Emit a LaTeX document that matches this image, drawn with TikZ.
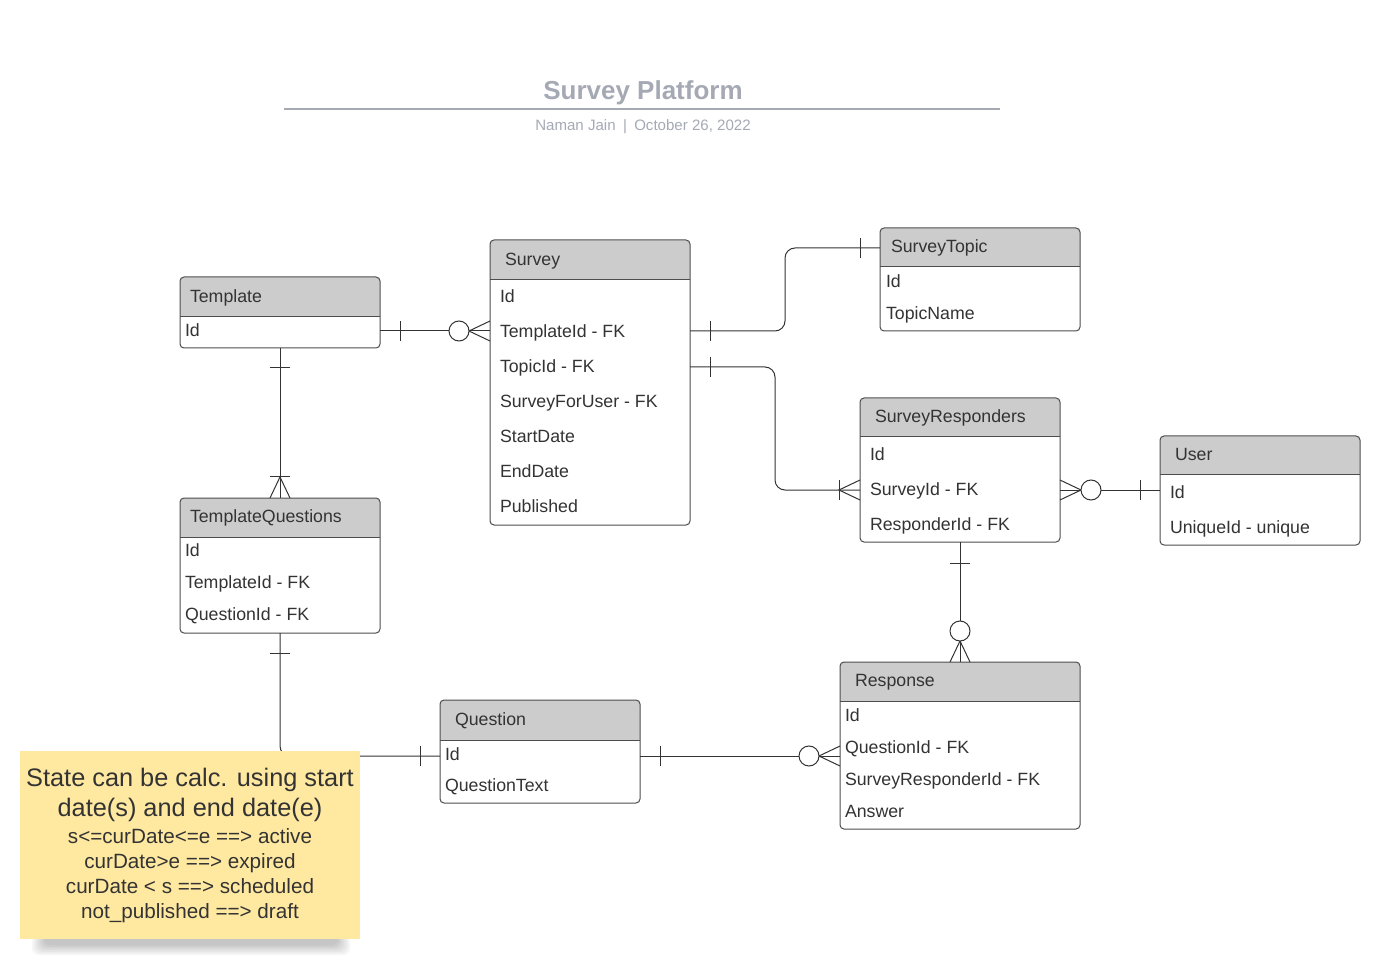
\documentclass[tikz,border=0pt]{standalone}
\usepackage{fontspec}
\setmainfont{Liberation Sans}
\usetikzlibrary{calc}
\definecolor{hdrgray}{HTML}{CCCCCC}
\definecolor{boxline}{HTML}{4D4D4D}
\definecolor{connline}{HTML}{333333}
\definecolor{txt}{HTML}{333333}
\definecolor{titlegray}{HTML}{A4A9B4}
\definecolor{notefill}{HTML}{FFE9A1}
\tikzset{
  ebox/.style={fill=white, draw=none, inner sep=0pt, outer sep=0pt},
  eborder/.style={draw=boxline, line width=0.75pt},
  htext/.style={anchor=west, inner sep=0pt, outer sep=0pt, text height=9.5pt, text depth=0pt,
    font=\fontsize{13.3}{16}\selectfont, text=txt},
  rtext/.style={htext},
  conn/.style={draw=connline, line width=0.75pt},
  notebox/.style={fill=notefill, draw=none, inner sep=0pt, align=center, text=txt,
    minimum width=255pt, minimum height=141pt, font=\fontsize{15.5}{18.75}\selectfont},
}
% entity: name, x, y, w, h, header h, title indent, title
\newcommand\erent[8]{%
  \node[ebox, minimum width=#4*0.75pt, minimum height=#5*0.75pt, anchor=north west] (#1) at (#2,#3) {};
  \begin{scope}
    \clip[rounded corners=3pt] (#2,#3) rectangle ++(#4,#5);
    \fill[hdrgray] (#2,#3) rectangle ++(#4,#6);
  \end{scope}
  \draw[eborder, rounded corners=3pt] (#2,#3) rectangle ++(#4,#5);
  \draw[eborder] (#2,#3+#6) -- ++(#4,0);
  \node[htext] (#1-title) at (#2+#7,#3+#6/2-1) {#8};
}
% markers: point, dx, dy (direction away from entity), distance
\newcommand\mkbar[4]{\draw[conn] ($(#1)+(#4*#2-10*#3, #4*#3+10*#2)$) -- ($(#1)+(#4*#2+10*#3, #4*#3-10*#2)$);}
\newcommand\mkcrow[3]{\draw[conn] ($(#1)+(-10*#3,10*#2)$) -- ($(#1)+(21*#2,21*#3)$) -- ($(#1)+(10*#3,-10*#2)$);}
\newcommand\mkcirc[3]{\draw[conn,fill=white] ($(#1)+(31*#2,31*#3)$) circle[radius=7.5pt];}

\begin{document}
\begin{tikzpicture}[x=0.75pt, y=-0.75pt]
\useasboundingbox (0,0) rectangle (1389,973);

% title
\node[anchor=base, inner sep=0pt, font=\bfseries\fontsize{19.5}{23}\selectfont, text=titlegray] (title) at (643,100) {Survey Platform};
\coordinate (tl) at (284,109);
\coordinate (tr) at (1000,109);
\draw[titlegray, line width=1.5pt] (tl) -- (tr);
\node[anchor=base, inner sep=0pt, font=\fontsize{11.3}{13.5}\selectfont, text=titlegray] (subtitle) at (643,130.5) {Naman Jain\hspace{5.5pt}|\hspace{5.5pt}October 26, 2022};

% entities
\erent{template}{180}{277}{200}{71}{40}{10}{Template}
\node[rtext] (template-id) at (185,330) {Id};

\erent{survey}{490}{240}{200}{285}{40}{15}{Survey}
\node[rtext] (survey-id) at (500,296) {Id};
\node[rtext] (survey-tid) at (500,331) {TemplateId - FK};
\node[rtext] (survey-topid) at (500,366) {TopicId - FK};
\node[rtext] (survey-sfu) at (500,401) {SurveyForUser - FK};
\node[rtext] (survey-start) at (500,436) {StartDate};
\node[rtext] (survey-end) at (500,471) {EndDate};
\node[rtext] (survey-pub) at (500,506) {Published};

\erent{topic}{880}{228}{200}{103}{39}{11}{SurveyTopic}
\node[rtext] (topic-id) at (886,281) {Id};
\node[rtext] (topic-name) at (886,313) {TopicName};

\erent{sr}{860}{398}{200}{144}{39}{15}{SurveyResponders}
\node[rtext] (sr-id) at (870,454) {Id};
\node[rtext] (sr-sid) at (870,489) {SurveyId - FK};
\node[rtext] (sr-rid) at (870,524) {ResponderId - FK};

\erent{user}{1160}{436}{200}{109}{39}{15}{User}
\node[rtext] (user-id) at (1170,492) {Id};
\node[rtext] (user-uid) at (1170,527) {UniqueId - unique};

\erent{tq}{180}{498}{200}{135}{39}{10}{TemplateQuestions}
\node[rtext] (tq-id) at (185,550) {Id};
\node[rtext] (tq-tid) at (185,582) {TemplateId - FK};
\node[rtext] (tq-qid) at (185,614) {QuestionId - FK};

\erent{question}{440}{700}{200}{103}{40}{15}{Question}
\node[rtext] (question-id) at (445,754) {Id};
\node[rtext] (question-text) at (445,785) {QuestionText};

\erent{response}{840}{662}{240}{167}{39}{15}{Response}
\node[rtext] (response-id) at (845,715) {Id};
\node[rtext] (response-qid) at (845,747) {QuestionId - FK};
\node[rtext] (response-srid) at (845,779) {SurveyResponderId - FK};
\node[rtext] (response-ans) at (845,811) {Answer};

% 1 Template - Survey
\draw[conn] (template.east |- survey-tid) coordinate (c1a) -- (survey.west |- survey-tid) coordinate (c1b);
\mkbar{c1a}{1}{0}{20}
\mkcrow{c1b}{-1}{0}
\mkcirc{c1b}{-1}{0}

% 2 Template - TemplateQuestions
\draw[conn] (template.south) coordinate (c2a) -- (tq.north) coordinate (c2b);
\mkbar{c2a}{0}{1}{20}
\mkbar{c2b}{0}{-1}{21}
\mkcrow{c2b}{0}{-1}

% 3 Survey - SurveyTopic
\coordinate (c3a) at (survey.east |- survey-tid);
\coordinate (c3b) at ($(topic.north west)+(0,20)$);
\draw[conn, rounded corners=7.5pt] (c3a) -- ++(95,0) |- (c3b);
\mkbar{c3a}{1}{0}{20}
\mkbar{c3b}{-1}{0}{20}

% 4 Survey - SurveyResponders
\coordinate (c4a) at ($(survey.east |- survey-topid)+(0,1)$);
\coordinate (c4b) at ($(sr.west |- sr-sid)+(0,1)$);
\draw[conn, rounded corners=7.5pt] (c4a) -- ++(85,0) |- (c4b);
\mkbar{c4a}{1}{0}{20}
\mkbar{c4b}{-1}{0}{21}
\mkcrow{c4b}{-1}{0}

% 5 SurveyResponders - User
\draw[conn] (c4b -| sr.east) coordinate (c5a) -- (c4b -| user.west) coordinate (c5b);
\mkcrow{c5a}{1}{0}
\mkcirc{c5a}{1}{0}
\mkbar{c5b}{-1}{0}{20}

% 6 SurveyResponders - Response
\draw[conn] (sr.south) coordinate (c6a) -- (response.north) coordinate (c6b);
\mkbar{c6a}{0}{1}{21}
\mkcrow{c6b}{0}{-1}
\mkcirc{c6b}{0}{-1}

% 7 TemplateQuestions - Question
\coordinate (c7a) at (tq.south);
\coordinate (c7b) at ($(question.north west)+(0,56)$);
\draw[conn, rounded corners=7.5pt] (c7a) |- (c7b);
\mkbar{c7a}{0}{1}{20}
\mkbar{c7b}{-1}{0}{20}

% 8 Question - Response
\draw[conn] (c7b -| question.east) coordinate (c8a) -- (c7b -| response.west) coordinate (c8b);
\mkbar{c8a}{1}{0}{20}
\mkcrow{c8b}{-1}{0}
\mkcirc{c8b}{-1}{0}

% sticky note shadow
\foreach \i in {0,...,6} {
  \fill[black, opacity=0.035, rounded corners=5pt] (32+\i*2,936) rectangle (350-\i*2,955-\i*1.6);
}
% sticky note
\node[notebox] (note) at (190,845) {{\fontsize{19}{22.5}\selectfont State can be calc. using start}\\[3.75pt]
{\fontsize{19}{22.5}\selectfont date(s) and end date(e)}\\[1.5pt]
s<=curDate<=e ==> active\\
curDate>e ==> expired\\
curDate < s ==> scheduled\\
not\_published ==> draft};
\end{tikzpicture}
\end{document}
